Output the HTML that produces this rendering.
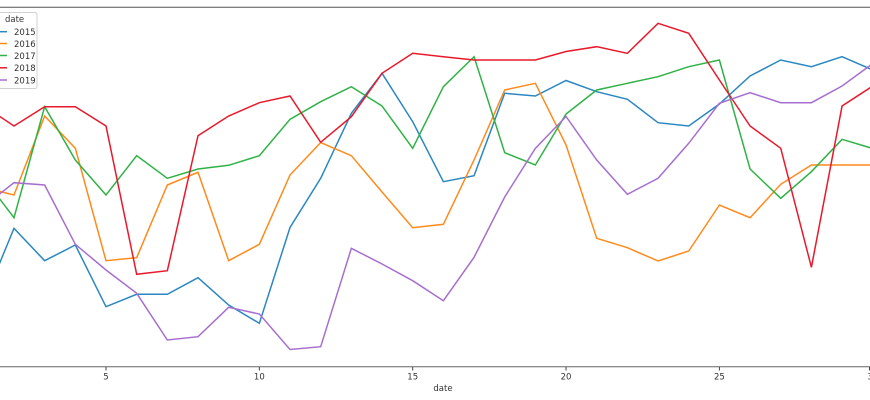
<!DOCTYPE html>
<html>
<head>
<meta charset="utf-8">
<style>
  html, body { margin: 0; padding: 0; background: #ffffff; }
  body { width: 870px; height: 400px; overflow: hidden; }
  svg { display: block; }
  text { font-family: "DejaVu Sans", "Liberation Sans", sans-serif; }
</style>
</head>
<body>
<svg width="870" height="400" viewBox="0 0 870 400" xmlns="http://www.w3.org/2000/svg">
  <rect x="0" y="0" width="870" height="400" fill="#ffffff"/>
  <!-- spines -->
  <line x1="0" y1="7.3" x2="870" y2="7.3" stroke="#555" stroke-width="1"/>
  <line x1="0" y1="366.8" x2="870" y2="366.8" stroke="#666" stroke-width="1"/>

  <defs>
    <clipPath id="plot"><rect x="0" y="7" width="870" height="360"/></clipPath>
  </defs>

  <g clip-path="url(#plot)" fill="none" stroke-width="1.5" stroke-linejoin="miter" stroke-linecap="square">
    <!-- 2015 -->
    <polyline stroke="#2a87c2" points="-16.68,302.8 13.99,228.3 44.66,260.7 75.33,245 106,306.7 136.67,294.3 167.34,294.3 198.01,277.7 228.68,305 259.35,323.3 290.02,227.5 320.69,178.3 351.36,113.3 382.03,73.3 412.7,121.7 443.37,181.7 474.04,175.7 504.71,93.3 535.38,96 566.05,80.5 596.72,91.7 627.39,99.3 658.06,122.7 688.73,126 719.4,104 750.07,76 780.74,60 811.41,66.7 842.08,56.7 872.75,70"/>
    <!-- 2016 -->
    <polyline stroke="#ff8a1c" points="-16.68,187.5 13.99,195 44.66,116 75.33,148.3 106,260.7 136.67,257.7 167.34,185 198.01,172.3 228.68,260.7 259.35,244.3 290.02,175 320.69,142.5 351.36,155.7 382.03,192 412.7,227.7 443.37,224.3 474.04,160 504.71,90 535.38,83.3 566.05,145 596.72,238.3 627.39,247.7 658.06,261 688.73,251 719.4,205 750.07,217.7 780.74,184.3 811.41,165 842.08,165 872.75,165"/>
    <!-- 2017 -->
    <polyline stroke="#2fb245" points="-16.68,177.4 13.99,217.7 44.66,106.7 75.33,160 106,195 136.67,155.7 167.34,178.3 198.01,169 228.68,165.3 259.35,155.7 290.02,119.3 320.69,101.7 351.36,86.7 382.03,106 412.7,148.3 443.37,86.7 474.04,56.7 504.71,152.7 535.38,165 566.05,114 596.72,90 627.39,83.3 658.06,76.7 688.73,66.7 719.4,60 750.07,169 780.74,198.3 811.41,171.7 842.08,139.3 872.75,148.5"/>
    <!-- 2018 -->
    <polyline stroke="#e8192c" points="-16.68,105.5 13.99,126 44.66,106.7 75.33,106.7 106,126 136.67,274.3 167.34,270.7 198.01,135.7 228.68,116 259.35,102.7 290.02,96 320.69,142.3 351.36,116.7 382.03,73.3 412.7,53.3 443.37,56.7 474.04,60 504.71,60 535.38,60 566.05,51.5 596.72,46.7 627.39,53.3 658.06,23.3 688.73,33.3 719.4,80 750.07,126 780.74,148.3 811.41,267.3 842.08,106 872.75,86"/>
    <!-- 2019 -->
    <polyline stroke="#a66fcf" points="-16.68,206.8 13.99,182.7 44.66,185 75.33,244.3 106,270 136.67,293.3 167.34,340 198.01,336.7 228.68,307.3 259.35,314 290.02,349.5 320.69,346.7 351.36,248.3 382.03,264 412.7,280.7 443.37,300.7 474.04,257.3 504.71,197 535.38,148.3 566.05,116.5 596.72,160 627.39,194.3 658.06,178.3 688.73,143.3 719.4,103.3 750.07,92.7 780.74,102.7 811.41,102.7 842.08,86 872.75,63.5"/>
  </g>

  <!-- x ticks -->
  <g stroke="#444" stroke-width="1">
    <line x1="106" y1="367" x2="106" y2="370.5"/>
    <line x1="259.35" y1="367" x2="259.35" y2="370.5"/>
    <line x1="412.7" y1="367" x2="412.7" y2="370.5"/>
    <line x1="566.05" y1="367" x2="566.05" y2="370.5"/>
    <line x1="719.4" y1="367" x2="719.4" y2="370.5"/>
    <line x1="869.5" y1="367" x2="869.5" y2="370.5"/>
  </g>
  <g font-size="8.5" fill="#333" text-anchor="middle">
    <text x="106" y="379.5">5</text>
    <text x="259.35" y="379.5">10</text>
    <text x="412.7" y="379.5">15</text>
    <text x="566.05" y="379.5">20</text>
    <text x="719.4" y="379.5">25</text>
    <text x="872.75" y="379.5">30</text>
    <text x="443" y="391">date</text>
  </g>

  <!-- legend -->
  <rect x="-6" y="12.5" width="43" height="76" rx="2" ry="2" fill="#ffffff" fill-opacity="0.85" stroke="#d0d0d0" stroke-width="1"/>
  <text x="5" y="21.8" font-size="8.5" fill="#333">date</text>
  <g stroke-width="1.5">
    <line x1="-4" y1="31.7" x2="7" y2="31.7" stroke="#2a87c2"/>
    <line x1="-4" y1="43.5" x2="7" y2="43.5" stroke="#ff8a1c"/>
    <line x1="-4" y1="55.5" x2="7" y2="55.5" stroke="#2fb245"/>
    <line x1="-4" y1="67.8" x2="7" y2="67.8" stroke="#e8192c"/>
    <line x1="-4" y1="80" x2="7" y2="80" stroke="#a66fcf"/>
  </g>
  <g font-size="8.5" fill="#333">
    <text x="14" y="35">2015</text>
    <text x="14" y="46.8">2016</text>
    <text x="14" y="58.8">2017</text>
    <text x="14" y="71.1">2018</text>
    <text x="14" y="83.3">2019</text>
  </g>
</svg>
</body>
</html>
